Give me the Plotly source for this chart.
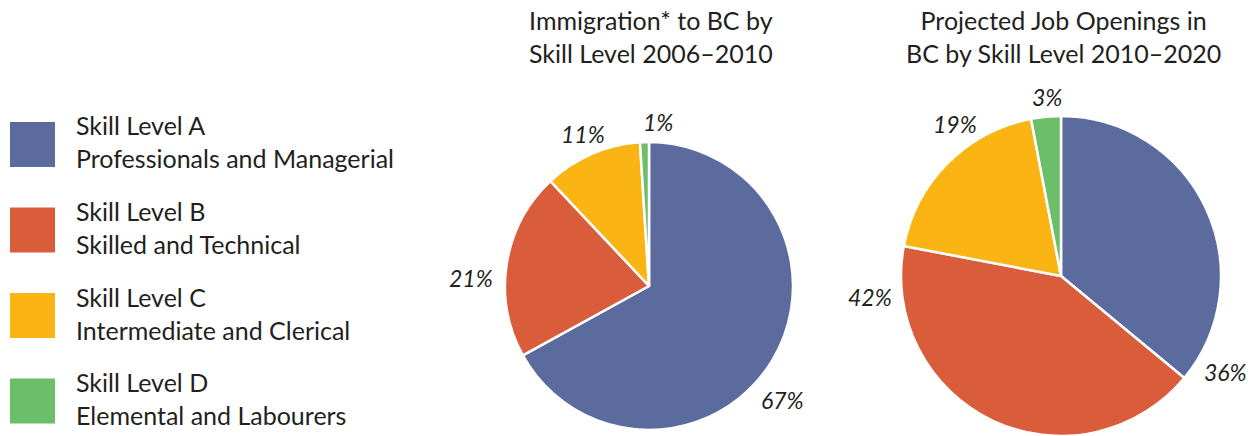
import math
import plotly.graph_objects as go

W, H = 1254, 436

categories = ["Skill Level A", "Skill Level B", "Skill Level C", "Skill Level D"]
descriptions = ["Professionals and Managerial", "Skilled and Technical",
                "Intermediate and Clerical", "Elemental and Labourers"]
colors = ["#5B6B9E", "#D95D3B", "#FAB515", "#6CBE69"]

immigration_pct = [67, 21, 11, 1]
job_openings_pct = [36, 42, 19, 3]

title_immigration = "Immigration* to BC by<br>Skill Level 2006\u20132010"
title_jobs = "Projected Job Openings in<br>BC by Skill Level 2010\u20132020"

FONT = "Lato"
TXT = "#231F20"

# pie geometry in pixels: centre x, centre y (from top), radius
PIE1 = (649, 286, 144)
PIE2 = (1061, 276, 160)
# label placement (style): angle clockwise from 12 o'clock, distance as factor of radius
LAB1 = [(130.6, 1.22), (272.6, 1.24), (336.4, 1.15), (3.1, 1.14)]
LAB2 = [(120.2, 1.19), (263.8, 1.20), (325.0, 1.16), (355.5, 1.12)]

fig = go.Figure()
annotations = []


def add_pie(values, geom, labpos):
    cx, cy, r = geom
    dom = dict(x=[(cx - r) / W, (cx + r) / W],
               y=[max(0, 1 - (cy + r) / H), 1 - (cy - r) / H])
    fig.add_trace(go.Pie(
        labels=categories, values=values, sort=False, direction="clockwise",
        rotation=0, marker=dict(colors=colors, line=dict(color="white", width=2.5)),
        textinfo="none", showlegend=False, hoverinfo="label+percent", domain=dom,
    ))
    for v, (ang, f) in zip(values, labpos):
        a = math.radians(ang)
        x = cx + f * r * math.sin(a)
        y = cy - f * r * math.cos(a)
        annotations.append(dict(x=x / W, y=1 - y / H, xref="paper", yref="paper",
                                xanchor="center", yanchor="middle", showarrow=False,
                                text=f"{v}%",
                                font=dict(family=FONT, size=23, color=TXT, style="italic")))


add_pie(immigration_pct, PIE1, LAB1)
add_pie(job_openings_pct, PIE2, LAB2)

for tx, xc in [(title_immigration, 651), (title_jobs, 1063)]:
    annotations.append(dict(x=xc / W, y=1 - 37 / H, xref="paper", yref="paper",
                            xanchor="center", yanchor="middle", align="center",
                            text=tx, showarrow=False,
                            font=dict(family=FONT, size=25, color=TXT)))

shapes = []
for i, (cat, desc, col) in enumerate(zip(categories, descriptions, colors)):
    top = 122 + i * 85.5
    shapes.append(dict(type="rect", xref="paper", yref="paper",
                       x0=10 / W, x1=55 / W, y0=1 - (top + 45) / H, y1=1 - top / H,
                       fillcolor=col, line=dict(width=0)))
    annotations.append(dict(x=74 / W, y=1 - (top + 20) / H, xref="paper", yref="paper",
                            xanchor="left", yanchor="middle", align="left",
                            text=f"{cat}<br>{desc}", showarrow=False,
                            font=dict(family=FONT, size=25, color=TXT)))

fig.update_layout(
    width=W, height=H, margin=dict(l=0, r=0, t=0, b=0),
    paper_bgcolor="white", plot_bgcolor="white",
    annotations=annotations, shapes=shapes,
)

fig.write_html("out.html")
